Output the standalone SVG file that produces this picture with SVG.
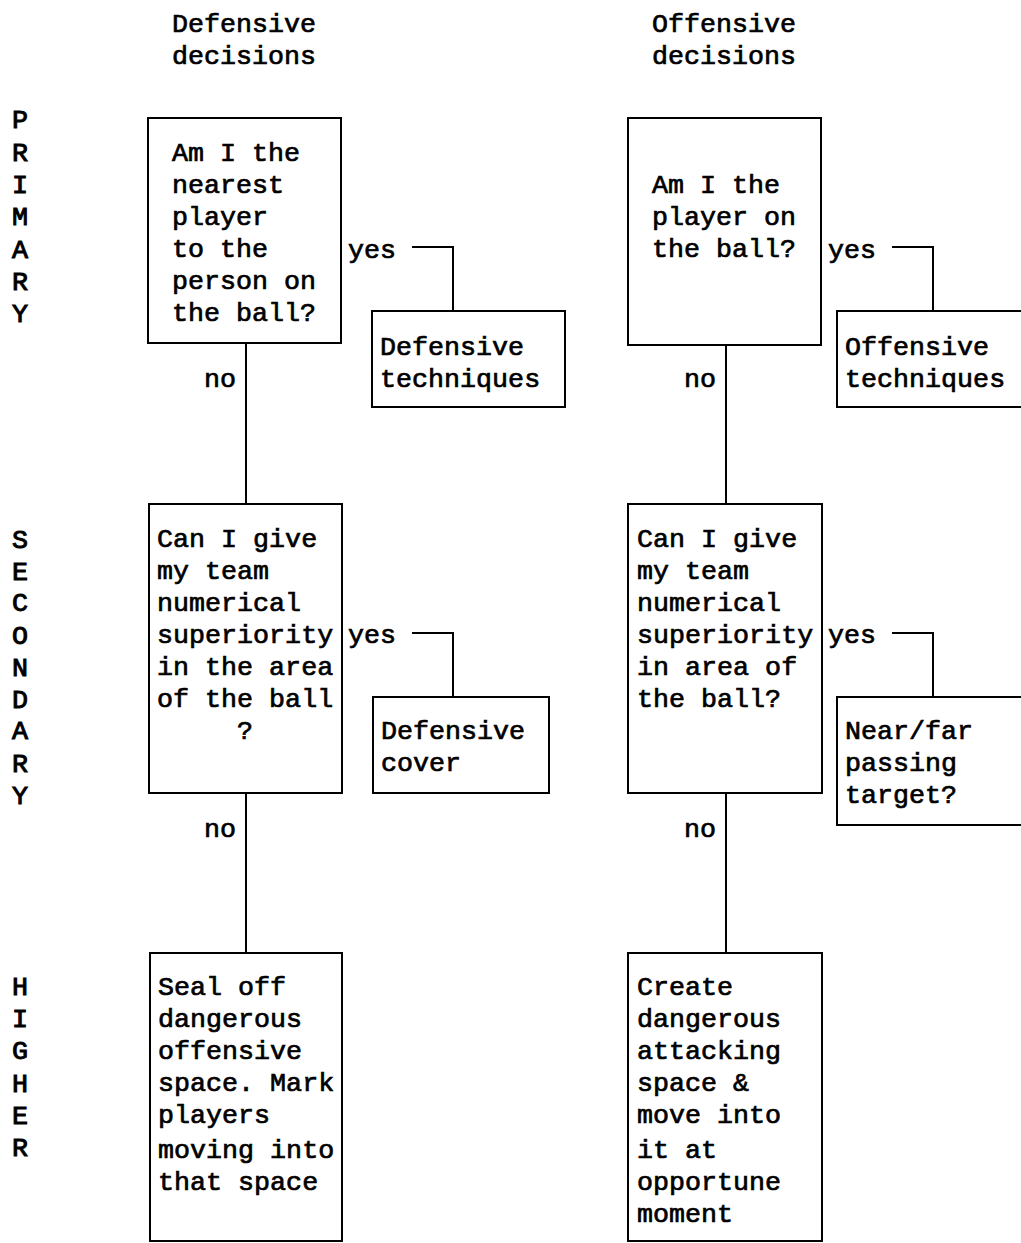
<svg xmlns="http://www.w3.org/2000/svg" width="1021" height="1243" viewBox="0 0 1021 1243">
<style>
text{font-family:"Liberation Mono","Courier New",monospace;font-size:26.7px;fill:#000;stroke:#000;stroke-width:0.7px}
.box{fill:#fff;stroke:#000;stroke-width:2}
.ln{fill:none;stroke:#000;stroke-width:2}
.side{text-anchor:middle;stroke-width:1px}
.c{text-anchor:middle}
</style>
<rect width="1021" height="1243" fill="#fff"/>
<g id="titles">
<text x="172" y="32">Defensive</text>
<text x="172" y="64">decisions</text>
<text x="652" y="32">Offensive</text>
<text x="652" y="64">decisions</text>
</g>
<g id="levels">
<text class="side" x="20" y="128">P</text>
<text class="side" x="20" y="161">R</text>
<text class="side" x="20" y="193">I</text>
<text class="side" x="20" y="225">M</text>
<text class="side" x="20" y="258">A</text>
<text class="side" x="20" y="290">R</text>
<text class="side" x="20" y="322">Y</text>
<text class="side" x="20" y="548">S</text>
<text class="side" x="20" y="580">E</text>
<text class="side" x="20" y="611">C</text>
<text class="side" x="20" y="644">O</text>
<text class="side" x="20" y="676">N</text>
<text class="side" x="20" y="708">D</text>
<text class="side" x="20" y="739">A</text>
<text class="side" x="20" y="772">R</text>
<text class="side" x="20" y="804">Y</text>
<text class="side" x="20" y="995">H</text>
<text class="side" x="20" y="1027">I</text>
<text class="side" x="20" y="1059">G</text>
<text class="side" x="20" y="1092">H</text>
<text class="side" x="20" y="1124">E</text>
<text class="side" x="20" y="1156">R</text>
</g>
<g id="connectors">
<path class="ln" d="M246 343V504M246 793V953"/>
<path class="ln" d="M726 345V504M726 793V953"/>
<path class="ln" d="M412 247H453V311M412 633H453V697"/>
<path class="ln" d="M892 247H933V311M892 633H933V697"/>
<text x="348" y="258">yes</text>
<text x="348" y="643">yes</text>
<text x="828" y="258">yes</text>
<text x="828" y="643">yes</text>
<text x="204" y="387">no</text>
<text x="204" y="837">no</text>
<text x="684" y="387">no</text>
<text x="684" y="837">no</text>
</g>
<g id="def-primary">
<rect class="box" x="148" y="118" width="193" height="225"/>
<text x="172" y="161">Am I the</text>
<text x="172" y="193">nearest</text>
<text x="172" y="225">player</text>
<text x="172" y="257">to the</text>
<text x="172" y="289">person on</text>
<text x="172" y="321">the ball?</text>
</g>
<g id="def-techniques">
<rect class="box" x="372" y="311" width="193" height="96"/>
<text x="380" y="355">Defensive</text>
<text x="380" y="387">techniques</text>
</g>
<g id="def-secondary">
<rect class="box" x="149" y="504" width="193" height="289"/>
<text x="157" y="547">Can I give</text>
<text x="157" y="579">my team</text>
<text x="157" y="611">numerical</text>
<text x="157" y="643">superiority</text>
<text x="157" y="675">in the area</text>
<text x="157" y="707">of the ball</text>
<text class="c" x="245" y="739">?</text>
</g>
<g id="def-cover">
<rect class="box" x="373" y="697" width="176" height="96"/>
<text x="381" y="739">Defensive</text>
<text x="381" y="771">cover</text>
</g>
<g id="def-higher">
<rect class="box" x="150" y="953" width="192" height="288"/>
<text x="158" y="995">Seal off</text>
<text x="158" y="1027">dangerous</text>
<text x="158" y="1059">offensive</text>
<text x="158" y="1091">space. Mark</text>
<text x="158" y="1123">players</text>
<text x="158" y="1158">moving into</text>
<text x="158" y="1190">that space</text>
</g>
<g id="off-primary">
<rect class="box" x="628" y="118" width="193" height="227"/>
<text x="652" y="193">Am I the</text>
<text x="652" y="225">player on</text>
<text x="652" y="257">the ball?</text>
</g>
<g id="off-techniques">
<rect class="box" x="837" y="311" width="190" height="96"/>
<text x="845" y="355">Offensive</text>
<text x="845" y="387">techniques</text>
</g>
<g id="off-secondary">
<rect class="box" x="628" y="504" width="194" height="289"/>
<text x="637" y="547">Can I give</text>
<text x="637" y="579">my team</text>
<text x="637" y="611">numerical</text>
<text x="637" y="643">superiority</text>
<text x="637" y="675">in area of</text>
<text x="637" y="707">the ball?</text>
</g>
<g id="off-target">
<rect class="box" x="837" y="697" width="190" height="128"/>
<text x="845" y="739">Near/far</text>
<text x="845" y="771">passing</text>
<text x="845" y="803">target?</text>
</g>
<g id="off-higher">
<rect class="box" x="628" y="953" width="194" height="288"/>
<text x="637" y="995">Create</text>
<text x="637" y="1027">dangerous</text>
<text x="637" y="1059">attacking</text>
<text x="637" y="1091">space &amp;</text>
<text x="637" y="1123">move into</text>
<text x="637" y="1158">it at</text>
<text x="637" y="1190">opportune</text>
<text x="637" y="1222">moment</text>
</g>
</svg>
